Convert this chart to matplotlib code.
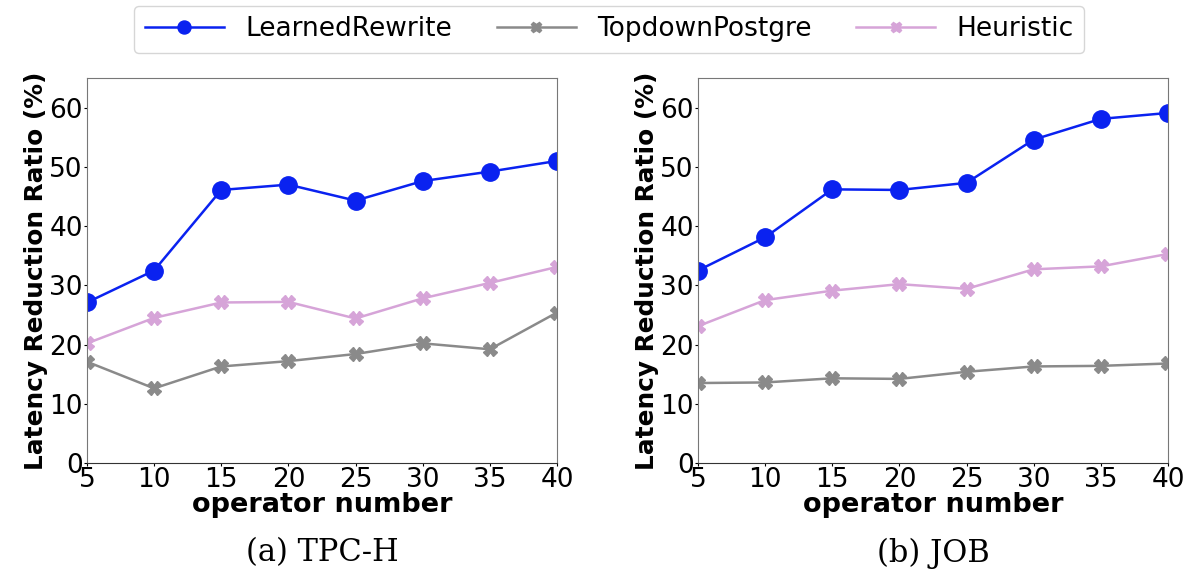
import matplotlib as mpl
mpl.use('Agg')
import matplotlib.pyplot as plt

# operator number on x, latency reduction ratio (%) on y
ops = [5, 10, 15, 20, 25, 30, 35, 40]
tpch_learned  = [27.1, 32.5, 46.1, 47.0, 44.3, 47.6, 49.2, 51.0]
tpch_topdown  = [17.1, 12.6, 16.3, 17.2, 18.4, 20.2, 19.2, 25.4]
tpch_heur     = [20.2, 24.5, 27.1, 27.2, 24.4, 27.8, 30.4, 33.1]
job_learned   = [32.5, 38.1, 46.2, 46.1, 47.3, 54.6, 58.1, 59.1]
job_topdown   = [13.5, 13.6, 14.3, 14.2, 15.4, 16.3, 16.4, 16.8]
job_heur      = [23.1, 27.5, 29.1, 30.2, 29.4, 32.7, 33.2, 35.3]
yticks = [0, 10, 20, 30, 40, 50, 60]
captions = ['(a) TPC-H', '(b) JOB']

fig = plt.figure(figsize=(11.83, 5.69), dpi=100)
ax1 = fig.add_axes([0.0735, 0.1863, 0.3973, 0.6766])
ax2 = fig.add_axes([0.5900, 0.1863, 0.3973, 0.6766])

panels = [(ax1, tpch_learned, tpch_topdown, tpch_heur),
          (ax2, job_learned, job_topdown, job_heur)]

for i, (ax, lr, td, he) in enumerate(panels):
    ax.plot(ops, lr, color='#0a22f0', linewidth=1.8, marker='o', markersize=12.5,
            label='LearnedRewrite')
    ax.plot(ops, td, color='#8a8a8a', linewidth=1.8, marker='X', markersize=10,
            label='TopdownPostgre')
    ax.plot(ops, he, color='#d6a4d8', linewidth=1.8, marker='X', markersize=10,
            label='Heuristic')
    ax.set_xlim(5, 40)
    ax.set_ylim(0, 65)
    ax.set_xticks(ops)
    ax.set_yticks(yticks)
    ax.tick_params(labelsize=19, length=2, pad=1)
    ax.set_xlabel('operator number', fontsize=19.5, fontweight='bold', labelpad=-1)
    ax.set_ylabel('Latency Reduction Ratio (%)', fontsize=17.8, fontweight='bold', labelpad=1)
    for s in ['left', 'top', 'right']:
        ax.spines[s].set_color('#777777')
    ax.spines['bottom'].set_color('#333333')
    # sub-figure caption under each panel
    ax.text(0.5, -0.193, captions[i], transform=ax.transAxes, ha='center', va='top',
            fontsize=22, family='DejaVu Serif')

h, l = ax1.get_legend_handles_labels()
fig.legend(h, l, loc='upper center', bbox_to_anchor=(0.515, 1.013), ncol=3,
           fontsize=19, frameon=True, handlelength=3, columnspacing=1.7,
           markerscale=0.75, borderpad=0.4)

plt.savefig('out.png', dpi=100)
